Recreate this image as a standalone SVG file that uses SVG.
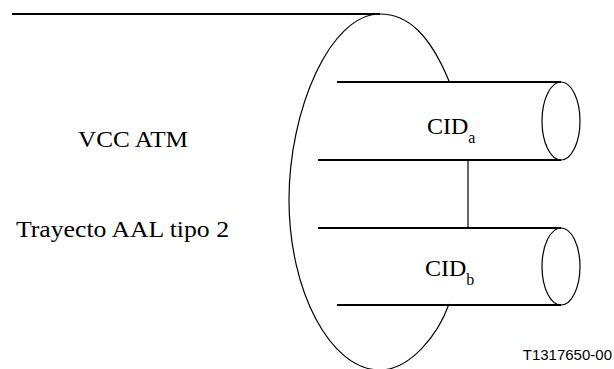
<svg xmlns="http://www.w3.org/2000/svg" width="614" height="369" viewBox="0 0 614 369">
<style>
.ln{stroke:#000;stroke-width:2;fill:none}
.th{stroke:#000;stroke-width:1.2;fill:none}
.t{font-family:"Liberation Serif",serif;font-size:24px;fill:#000}
.s{font-size:16px}
.id{font-family:"Liberation Sans",Arial,sans-serif;font-size:15px;fill:#000}
</style>
<rect width="614" height="369" fill="#fff"/>
<g id="vcc">
<path class="th" d="M449,81 C430,35 408,14 380,14 C330,14 289,110 289,200 C289,290 330,370 380,370 C410,370 438,335 449,304"/>
<text class="t" x="78" y="147" textLength="110" lengthAdjust="spacingAndGlyphs">VCC ATM</text>
</g>
<g id="trayecto">
<text class="t" x="16" y="237" textLength="213" lengthAdjust="spacingAndGlyphs">Trayecto AAL tipo 2</text>
</g>
<g id="cida">
<line class="ln" x1="337" y1="82" x2="561" y2="82"/>
<line class="ln" x1="318" y1="160" x2="561" y2="160"/>
<ellipse class="th" cx="561" cy="121" rx="19" ry="39"/>
<text class="t" x="427" y="134">CID<tspan class="s" dy="9">a</tspan></text>
</g>
<g id="cidb">
<line class="ln" x1="318" y1="228" x2="561" y2="228"/>
<line class="ln" x1="337" y1="305" x2="561" y2="305"/>
<ellipse class="th" cx="561" cy="266.5" rx="19" ry="38.5"/>
<text class="t" x="425" y="276">CID<tspan class="s" dy="9">b</tspan></text>
</g>
<g id="connectors">
<line class="ln" x1="12" y1="14" x2="380" y2="14"/>
<line class="th" x1="468" y1="160" x2="468" y2="228"/>
</g>
<text class="id" x="612" y="360" text-anchor="end">T1317650-00</text>
</svg>
